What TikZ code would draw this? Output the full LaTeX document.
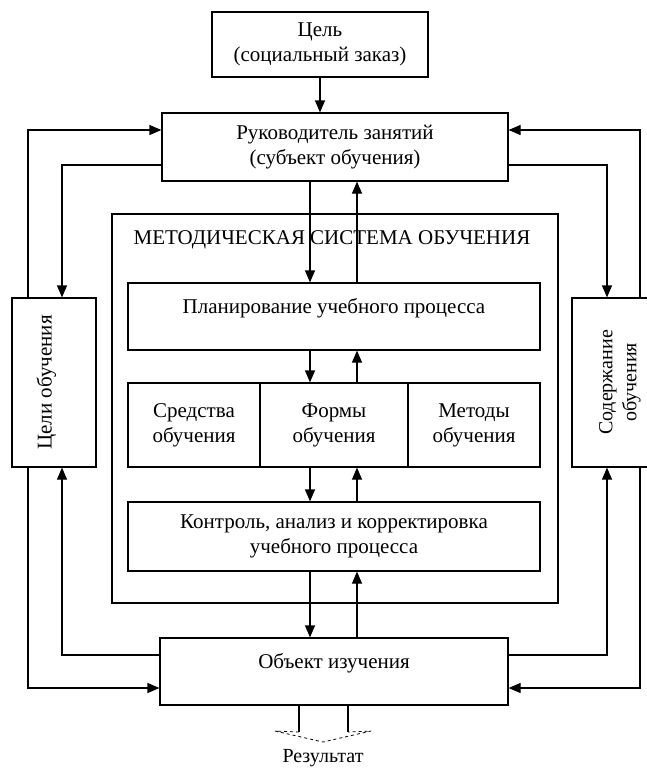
\documentclass[tikz,border=0pt]{standalone}
\usepackage{fontspec}
\setmainfont{Liberation Serif}
\usetikzlibrary{arrows.meta,positioning}

\begin{document}
\begin{tikzpicture}[x=1pt, y=-1pt, line width=1.2pt, >={Triangle[length=12pt,width=10pt]},
    blk/.style={draw, align=center, inner sep=0pt, font=\fontsize{21}{25}\selectfont}]
        \clip (0,0) rectangle (647,771);
        \node[blk, minimum width=216pt, minimum height=65pt] (G) at (320,44.5) {Цель\\(социальный заказ)};
        \node[blk, minimum width=346pt, minimum height=68pt] (R) at (335,147) {Руководитель занятий\\(субъект обучения)};
        \node[blk, minimum width=446pt, minimum height=389pt] (MS) at (335,408.5) {};
        \node[font=\fontsize{21}{25}\selectfont] (T) at (332,240) {МЕТОДИЧЕСКАЯ СИСТЕМА ОБУЧЕНИЯ};
        \node[blk, minimum width=412pt, minimum height=67pt, text depth=21pt] (P) at (334,316.5) {Планирование учебного процесса};
        \node[blk, minimum width=132pt, minimum height=84pt] (S) at (194,425) {Средства\\обучения};
        \node[blk, minimum width=148pt, minimum height=84pt] (F) at (334,425) {Формы\\обучения};
        \node[blk, minimum width=132pt, minimum height=84pt] (M) at (474,425) {Методы\\обучения};
        \node[blk, minimum width=412pt, minimum height=69pt] (K) at (334,536.5) {Контроль, анализ и корректировка\\учебного процесса};
        \node[blk, minimum width=348pt, minimum height=67pt, text depth=21pt] (O) at (334,671.5) {Объект изучения};
        \node[blk, minimum width=169pt, minimum height=84pt, text depth=20pt, rotate=90] (C) at (54,382.5) {Цели обучения};
        \node[blk, minimum width=169pt, minimum height=96pt, rotate=90, font=\fontsize{20}{24}\selectfont] (D) at (620,382.5) {Содержание\\обучения};
        \node[font=\fontsize{20}{24}\selectfont] (Res) at (323,758) {Результат};

        \coordinate (dn) at (310,0);
        \coordinate (up) at (357,0);
        \coordinate (lo) at (28,0);
        \coordinate (li) at (62,0);
        \coordinate (ri) at (607,0);
        \coordinate (ro) at (640,0);
        \coordinate (ya) at (0,130);
        \coordinate (yb) at (0,165);
        \coordinate (yc) at (0,655);
        \coordinate (yd) at (0,688);

        \draw[->] (G.south) -- (G.south |- R.north);
        \draw[->] (R.south -| dn) -- (P.north -| dn);
        \draw[->] (P.north -| up) -- (R.south -| up);
        \draw[->] (P.south -| dn) -- (F.north -| dn);
        \draw[->] (F.north -| up) -- (P.south -| up);
        \draw[->] (F.south -| dn) -- (K.north -| dn);
        \draw[->] (K.north -| up) -- (F.south -| up);
        \draw[->] (K.south -| dn) -- (O.north -| dn);
        \draw[->] (O.north -| up) -- (K.south -| up);

        \draw[->] (C.east -| lo) |- (R.west |- ya);
        \draw[->] (R.west |- yb) -| (C.east -| li);
        \draw[->] (O.west |- yc) -| (C.west -| li);
        \draw[->] (C.west -| lo) |- (O.west |- yd);
        \draw[->] (D.east -| ro) |- (R.east |- ya);
        \draw[->] (R.east |- yb) -| (D.east -| ri);
        \draw[->] (O.east |- yc) -| (D.west -| ri);
        \draw[->] (D.west -| ro) |- (O.east |- yd);

        \coordinate (sl) at (299,732);
        \coordinate (sr) at (348,732);
        \draw (O.south -| sl) -- (sl);
        \draw (O.south -| sr) -- (sr);
        \draw[dashed, line width=0.8pt] (sl) -- (275,731) -- (323,742) -- (371,731) -- (sr);
\end{tikzpicture}
\end{document}
